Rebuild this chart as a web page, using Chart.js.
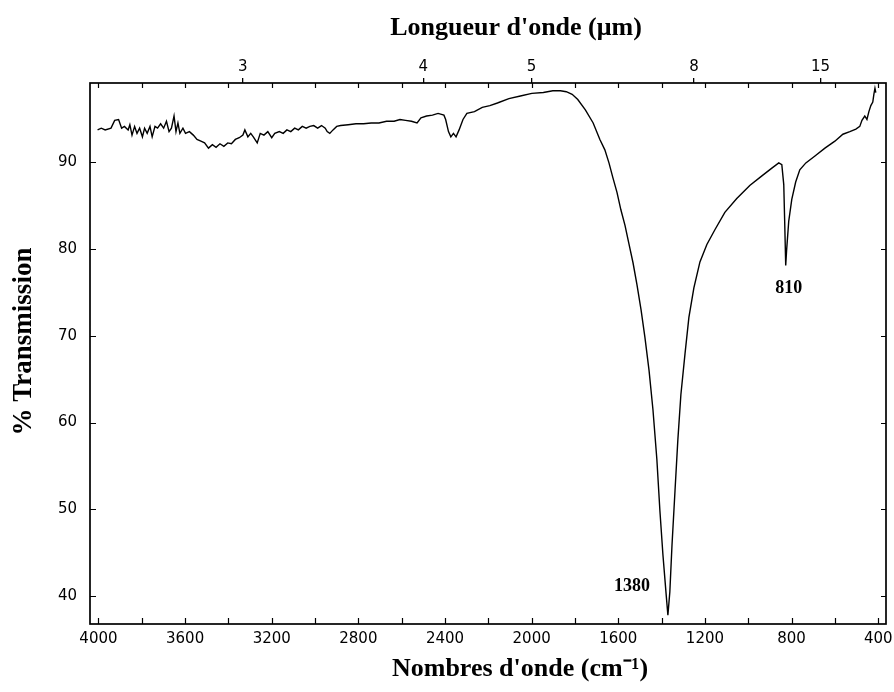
<!DOCTYPE html>
<html><head><meta charset="utf-8">
<script src="https://cdn.jsdelivr.net/npm/chart.js@4/dist/chart.umd.min.js"></script>
<style>html,body{margin:0;padding:0;background:#fff}</style>
</head><body>
<canvas id="c" width="894" height="692"></canvas>
<script>
// Wavenumber (cm-1) and % transmission
const wavenumbers = [4004,3987,3969,3942,3925,3907,3893,3880,3863,3855,
3845,3833,3822,3810,3797,3787,3775,3762,3752,3739,
3727,3713,3699,3686,3674,3663,3651,3642,3633,3624,
3610,3598,3580,3562,3545,3527,3510,3492,3474,3457,
3439,3421,3403,3386,3368,3350,3333,3324,3310,3297,
3285,3267,3253,3236,3218,3200,3186,3165,3147,3130,
3112,3094,3077,3059,3041,3024,3006,2988,2970,2953,
2944,2932,2917,2900,2882,2847,2811,2776,2741,2705,
2670,2635,2608,2582,2555,2529,2511,2485,2458,2432,
2405,2397,2384,2373,2361,2349,2335,2317,2299,2264,
2228,2193,2158,2105,2052,1999,1946,1902,1867,1840,
1813,1787,1752,1716,1685,1662,1643,1625,1606,1588,
1569,1551,1532,1514,1495,1477,1458,1440,1422,1408,
1394,1380,1371,1362,1352,1338,1325,1311,1292,1274,
1251,1223,1191,1154,1108,1053,993,937,891,859,
845,836,832,827,823,813,799,781,762,734,
692,646,600,563,531,503,485,475,462,452,
443,434,425,420,415,411];
const transmission = [93.7,93.9,93.7,93.9,94.8,94.9,93.9,94.1,93.7,94.3,
93.1,94.1,93.3,93.9,92.9,93.9,93.3,94.1,92.9,94.1,
93.9,94.4,93.9,94.7,93.5,93.9,95.3,93.5,94.5,93.3,
93.9,93.3,93.5,93.1,92.6,92.4,92.2,91.6,92.0,91.7,
92.1,91.8,92.2,92.1,92.6,92.8,93.1,93.7,92.9,93.3,
92.9,92.2,93.3,93.1,93.5,92.8,93.3,93.5,93.3,93.7,
93.5,93.9,93.7,94.1,93.9,94.1,94.2,93.9,94.2,93.9,
93.5,93.3,93.7,94.1,94.2,94.3,94.4,94.4,94.5,94.5,
94.7,94.7,94.9,94.8,94.7,94.5,95.1,95.3,95.4,95.6,
95.4,94.9,93.5,92.9,93.3,92.9,93.7,94.9,95.6,95.8,
96.3,96.5,96.8,97.3,97.6,97.9,98.0,98.2,98.2,98.1,
97.8,97.2,96.0,94.5,92.6,91.4,89.9,88.2,86.5,84.5,
82.7,80.6,78.4,75.9,73.0,69.8,66.0,61.5,55.8,49.9,
44.8,40.5,37.8,40.5,45.9,52.2,58.0,63.2,67.9,72.1,
75.5,78.5,80.5,82.2,84.2,85.8,87.3,88.4,89.3,89.9,
89.7,87.4,83.4,78.1,79.8,83.2,85.7,87.7,89.1,89.9,
90.7,91.6,92.4,93.2,93.5,93.8,94.1,94.8,95.3,94.9,
95.8,96.5,96.9,97.8,98.5,98.0];
const bottomTickLabels = [4000,3600,3200,2800,2400,2000,1600,1200,800,400];
const yTickLabels = [40,50,60,70,80,90];
const micronTicks = [3,4,5,8,15];
const peakLabels = ['1380','810'];
const peakWavenumbers = [1371,827];
const peakTransmission = [37.8,78.1];
const peakLabelOffsets = [[-36,-29],[3,23]];
const axisTitles = {
  top: "Longueur d'onde (\u03BCm)",
  bottom: "Nombres d'onde (cm\u207B\u00B9)",
  left: '% Transmission'
};

const X_MIN = 364, X_MAX = 4039, Y_MIN = 36.8, Y_MAX = 99.1;
const tickFont = {family:'DejaVu Sans', size:15};

const framePlugin = {
  id:'frame',
  afterDraw(chart){
    const ctx = chart.ctx, ca = chart.chartArea;
    const x = chart.scales.x, y = chart.scales.y;
    ctx.save();
    ctx.strokeStyle = '#000';
    ctx.lineWidth = 1.2;
    ctx.beginPath();
    x.ticks.forEach(t=>{
      const px = Math.round(x.getPixelForValue(t.value))+0.5;
      ctx.moveTo(px, ca.bottom); ctx.lineTo(px, ca.bottom-6);
      ctx.moveTo(px, ca.top); ctx.lineTo(px, ca.top+5);
    });
    y.ticks.forEach(t=>{
      const py = Math.round(y.getPixelForValue(t.value))+0.5;
      ctx.moveTo(ca.left, py); ctx.lineTo(ca.left+6, py);
      ctx.moveTo(ca.right, py); ctx.lineTo(ca.right-5, py);
    });
    ctx.stroke();
    ctx.lineWidth = 1.7;
    ctx.strokeRect(ca.left, ca.top, ca.right-ca.left, ca.bottom-ca.top);

    ctx.fillStyle = '#000';
    // peak annotations
    ctx.font = 'bold 18px "Liberation Serif"';
    ctx.textAlign = 'center';
    ctx.textBaseline = 'middle';
    peakLabels.forEach((lab,i)=>{
      const px = x.getPixelForValue(peakWavenumbers[i]) + peakLabelOffsets[i][0];
      const py = y.getPixelForValue(peakTransmission[i]) + peakLabelOffsets[i][1];
      ctx.fillText(lab, px, py);
    });
    // axis titles
    const cx = (ca.left+ca.right)/2, cy = (ca.top+ca.bottom)/2;
    ctx.textBaseline = 'alphabetic';
    ctx.font = 'bold 26px "Liberation Serif"';
    ctx.fillText(axisTitles.top, cx+28, 35);
    ctx.fillText(axisTitles.bottom, cx+32, 676);
    ctx.font = 'bold 27px "Liberation Serif"';
    ctx.translate(31, cy-12);
    ctx.rotate(-Math.PI/2);
    ctx.fillText(axisTitles.left, 0, 0);
    ctx.restore();
  }
};

function noLabelOverhang(s){ s.paddingLeft = 0; s.paddingRight = 0; }

new Chart(document.getElementById('c'), {
  type:'line',
  data:{datasets:[{
    data: wavenumbers.map((w,i)=>({x:w, y:transmission[i]})),
    borderColor:'#000', borderWidth:1.4, pointRadius:0, tension:0, fill:false
  }]},
  options:{
    responsive:false, animation:false, devicePixelRatio:1,
    layout:{padding:{left:0,right:8,top:0,bottom:0}},
    plugins:{legend:{display:false}, tooltip:{enabled:false}},
    scales:{
      x:{
        type:'linear', position:'bottom', min:X_MIN, max:X_MAX, reverse:true,
        afterFit(s){ s.height = 68; noLabelOverhang(s); },
        grid:{drawOnChartArea:false, drawTicks:false},
        border:{display:false},
        ticks:{stepSize:200, includeBounds:false, autoSkip:false, maxRotation:0, padding:6,
          font:tickFont, color:'#000',
          callback:(v)=> bottomTickLabels.includes(v) ? String(v) : ''}
      },
      xTop:{
        type:'linear', position:'top', min:X_MIN, max:X_MAX, reverse:true, display:true,
        afterFit(s){ s.height = 83; noLabelOverhang(s); },
        afterBuildTicks(s){ s.ticks = micronTicks.map(m=>({value:10000/m})); },
        grid:{drawOnChartArea:false, drawTicks:true, tickLength:5, color:'#000', lineWidth:1.3},
        border:{display:false},
        ticks:{autoSkip:false, maxRotation:0, padding:2, font:tickFont, color:'#000',
          callback:(v,i)=> String(micronTicks[i])}
      },
      y:{
        type:'linear', position:'left', min:Y_MIN, max:Y_MAX,
        afterFit(s){ s.width = 90; s.paddingTop = 0; s.paddingBottom = 0; },
        grid:{drawOnChartArea:false, drawTicks:false},
        border:{display:false},
        ticks:{stepSize:10, includeBounds:false, padding:13, font:tickFont, color:'#000',
          callback:(v)=> yTickLabels.includes(v) ? String(v) : ''}
      }
    }
  },
  plugins:[framePlugin]
});
</script>
</body></html>
